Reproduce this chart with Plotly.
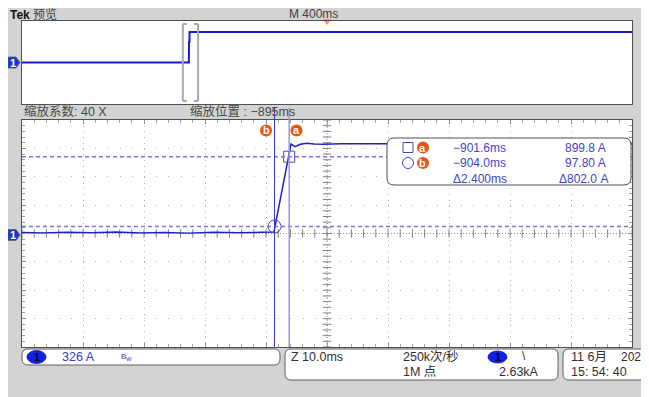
import plotly.graph_objects as go

# The page body has an 8px margin, so the figure is laid out in page pixels minus 8.
OFF = 8
W, H = 649 - OFF, 397 - OFF
FONT = "Liberation Sans, Noto Sans CJK SC, sans-serif"

# ---------------- data (read from the screen) ----------------
# zoomed window trace: time (ms) and current (A)
main_t = [-945.4, -942.0, -938.0, -934.0, -930.0, -926.0, -922.0, -918.0, -914.0, -910.0,
          -906.0, -904.1, -901.3, -900.65, -899.8, -898.7, -897.5, -896.0, -893.0, -890.0,
          -886.0, -882.0, -878.0, -874.0, -870.0, -866.0, -862.0, -858.0, -854.0, -850.0, -845.4]
main_i = [28, 22, 30, 25, 33, 24, 29, 21, 31, 26,
          30, 34, 1045, 1014, 1042, 1053, 1046, 1043, 1047, 1044,
          1048, 1045, 1043, 1047, 1045, 1049, 1044, 1046, 1045, 1047, 1045]

# preview (overview) trace: time (ms) and current (A)
ov_t = [-2000, -906, -905, -902, -901, 2000]
ov_i = [0, 0, 640, 640, 960, 960]

cursor_names = ["a", "b"]
cursor_t = [-901.6, -904.0]
cursor_i = [899.8, 97.80]
readout_t = ["−901.6ms", "−904.0ms", "Δ2.400ms"]
readout_i = ["899.8 A", "97.80 A", "Δ802.0 A"]

volts_div = 326.0          # A / div
main_tdiv = 10.0           # ms / div
ov_tdiv = 400.0            # ms / div
x_center = -895.4          # centre of zoom window on screen (label -895ms)
y_center = 17.0            # A at screen centre

# ---------------- helpers (page pixels -> paper) ----------------
def X(p):
    return (p - OFF) / W

def Y(p):
    return 1 - (p - OFF) / H

def rrect(x0, y0, x1, y1, r):
    pts = [("M", x0 + r, y0), ("L", x1 - r, y0), ("Q", x1, y0, x1, y0 + r),
           ("L", x1, y1 - r), ("Q", x1, y1, x1 - r, y1), ("L", x0 + r, y1),
           ("Q", x0, y1, x0, y1 - r), ("L", x0, y0 + r), ("Q", x0, y0, x0 + r, y0)]
    s = ""
    for p in pts:
        if p[0] == "Q":
            s += f"Q{X(p[1])},{Y(p[2])} {X(p[3])},{Y(p[4])} "
        else:
            s += f"{p[0]}{X(p[1])},{Y(p[2])} "
    return s + "Z"

shapes = []
annotations = []

def ann(x, y, text, size=12, color="#404040", anchor="left", bold=False, family=FONT, xref="paper", xshift=0):
    annotations.append(dict(
        x=x if xref != "paper" else X(x), y=Y(y), xref=xref, yref="paper",
        text=f"<b>{text}</b>" if bold else text, showarrow=False,
        xanchor=anchor, yanchor="middle", xshift=xshift,
        font=dict(size=size, color=color, family=family)))

fig = go.Figure()

# ---------------- overview ----------------
fig.add_trace(go.Scatter(x=ov_t, y=ov_i, mode="lines", xaxis="x", yaxis="y",
                         line=dict(color="#1a1ac8", width=2), hoverinfo="skip"))
# trigger marker
fig.add_trace(go.Scatter(x=[0], y=[4 * volts_div], mode="markers", xaxis="x", yaxis="y",
                         marker=dict(symbol="triangle-down", size=8, color="#f0a030"),
                         cliponaxis=False, hoverinfo="skip"))
# zoom window brackets
zw0, zw1 = x_center - 5 * main_tdiv, x_center + 5 * main_tdiv
for xa, sgn in ((zw0, 1), (zw1, -1)):
    shapes.append(dict(type="line", xref="x", yref="paper", x0=xa, x1=xa, y0=Y(101), y1=Y(24),
                       line=dict(color="#a8a8a8", width=2)))
    for yy in (24, 101):
        shapes.append(dict(type="line", xref="x", yref="paper", xsizemode="pixel", xanchor=xa,
                           x0=0, x1=4 * sgn, y0=Y(yy), y1=Y(yy), line=dict(color="#a8a8a8", width=2)))

# ---------------- main window ----------------
# centre cross (dense dotted) and its ticks
shapes.append(dict(type="line", xref="x2", yref="y2", x0=x_center, x1=x_center,
                   y0=y_center - 4 * volts_div, y1=y_center + 4 * volts_div,
                   line=dict(color="#909090", width=1, dash="1px,2px")))
shapes.append(dict(type="line", xref="x2", yref="y2", x0=x_center - 5 * main_tdiv, x1=x_center + 5 * main_tdiv,
                   y0=y_center, y1=y_center, line=dict(color="#909090", width=1, dash="1px,2px")))
tx = [x_center - 5 * main_tdiv + k * main_tdiv / 5 for k in range(51)]
ty = [y_center - 4 * volts_div + k * volts_div / 5 for k in range(41)]
fig.add_trace(go.Scatter(x=tx, y=[y_center] * len(tx), mode="markers", xaxis="x2", yaxis="y2",
                         marker=dict(symbol="line-ns", size=6, line=dict(color="#808080", width=1)),
                         hoverinfo="skip"))
fig.add_trace(go.Scatter(x=[x_center] * len(ty), y=ty, mode="markers", xaxis="x2", yaxis="y2",
                         marker=dict(symbol="line-ew", size=6, line=dict(color="#808080", width=1)),
                         hoverinfo="skip"))

# horizontal cursor lines (dashed)
for ci in cursor_i:
    shapes.append(dict(type="line", xref="paper", yref="y2", x0=X(22), x1=X(632), y0=ci, y1=ci,
                       line=dict(color="#7a7ad6", width=1.5, dash="4px,3px")))
# vertical cursor lines
vcol = {"a": ("#9898e6", 1.5), "b": ("#3434c8", 1)}
for name, ct in zip(cursor_names, cursor_t):
    c, w = vcol[name]
    shapes.append(dict(type="line", xref="x2", yref="paper", x0=ct, x1=ct, y0=Y(347), y1=Y(108),
                       line=dict(color=c, width=w)))

# trace
fig.add_trace(go.Scatter(x=main_t, y=main_i, mode="lines", xaxis="x2", yaxis="y2",
                         line=dict(color="#2020c4", width=1.5), hoverinfo="skip"))
# cursor markers
fig.add_trace(go.Scatter(x=[cursor_t[0]], y=[cursor_i[0]], mode="markers", xaxis="x2", yaxis="y2",
                         marker=dict(symbol="square-open", size=11, color="#4848c0", line=dict(width=1)),
                         hoverinfo="skip"))
fig.add_trace(go.Scatter(x=[cursor_t[1]], y=[cursor_i[1]], mode="markers", xaxis="x2", yaxis="y2",
                         marker=dict(symbol="circle-open", size=13, color="#4848c0", line=dict(width=1)),
                         hoverinfo="skip"))

# orange cursor tags
ORANGE = "#ec5418"
tag_off = {"a": 7.3, "b": -8.5}
for name, ct in zip(cursor_names, cursor_t):
    o = tag_off[name]
    shapes.append(dict(type="circle", xref="x2", yref="paper", xsizemode="pixel", xanchor=ct,
                       x0=o - 6, x1=o + 6, y0=Y(136.5), y1=Y(124.5), fillcolor=ORANGE, line_width=0))
    ann(ct, 130.5, name, size=11, color="white", anchor="center", bold=True, xref="x2", xshift=o)

# readout box
shapes.append(dict(type="path", xref="paper", yref="paper", path=rrect(387, 138, 631, 185, 7),
                   fillcolor="white", line=dict(color="#505050", width=1)))
shapes.append(dict(type="rect", xref="paper", yref="paper", x0=X(403), x1=X(413), y0=Y(152.5), y1=Y(142.5),
                   line=dict(color="#4848c0", width=1)))
shapes.append(dict(type="circle", xref="paper", yref="paper", x0=X(402.5), x1=X(413.5), y0=Y(168.5), y1=Y(157.5),
                   line=dict(color="#4848c0", width=1)))
for yy, name in ((147.5, "a"), (163, "b")):
    shapes.append(dict(type="circle", xref="paper", yref="paper", x0=X(417), x1=X(429), y0=Y(yy + 6), y1=Y(yy - 6),
                       fillcolor=ORANGE, line_width=0))
    ann(423, yy, name, size=11, color="white", anchor="center", bold=True)
BLUE_T = "#4444c4"
for k, (ts, vs) in enumerate(zip(readout_t, readout_i)):
    yy = [147.5, 163, 179][k]
    ann(451, yy, ts, size=12, color=BLUE_T)
    ann(563 if k < 2 else 557, yy, vs, size=12, color=BLUE_T)

# ---------------- header / labels ----------------
ann(8, 15, "Tek", size=12, color="#101010", bold=True)
ann(31, 15, "预览", size=12, color="#404040")
ann(313, 14, "M 400ms", size=12, color="#404040", anchor="center")
ann(22, 112, "缩放系数: 40 X", size=12.5, color="#484848")
ann(188, 112, "缩放位置 : −895ms", size=12.5, color="#484848")

# channel ground markers
for yref in ("y", "y2"):
    shapes.append(dict(type="path", xref="paper", yref=yref, xsizemode="pixel", xanchor=0,
                       ysizemode="pixel", yanchor=0,
                       path="M0,-5.5 L8,-5.5 L12,0 L8,5.5 L0,5.5 Z",
                       fillcolor="#1a36d8", line=dict(color="#606060", width=0.8)))
    annotations.append(dict(x=X(13), y=0, xref="paper", yref=yref, text="<b>1</b>", showarrow=False,
                            xanchor="center", yanchor="middle", font=dict(size=11, color="white", family=FONT)))

# ---------------- bottom readouts ----------------
shapes.append(dict(type="path", xref="paper", yref="paper", path=rrect(22, 349, 280, 365, 6),
                   fillcolor="white", line=dict(color="#606060", width=1)))
shapes.append(dict(type="path", xref="paper", yref="paper", path=rrect(285, 349, 558, 380, 6),
                   fillcolor="white", line=dict(color="#606060", width=1)))
shapes.append(dict(type="path", xref="paper", yref="paper", path=rrect(563, 349, 680, 380, 6),
                   fillcolor="white", line=dict(color="#606060", width=1)))
for (x0, x1, y0, y1) in ((27, 46, 350.5, 363.5), (488, 507, 351, 363)):
    shapes.append(dict(type="circle", xref="paper", yref="paper", x0=X(x0), x1=X(x1), y0=Y(y1), y1=Y(y0),
                       fillcolor="#1020e8", line=dict(color="#0a10a0", width=0.8)))
    ann((x0 + x1) / 2, (y0 + y1) / 2, "1", size=11, color="#000030", anchor="center", bold=True)
ann(60, 357, "326 A", size=12.5, color="#3a3ac8")
ann(119, 357, "B<sub>W</sub>", size=8, color="#3a3ac8")
ann(289, 357, "Z 10.0ms", size=12.5, color="#303030")
ann(401, 357, "250k次/秒", size=12.5, color="#303030")
ann(401, 372, "1M 点", size=12.5, color="#303030")
ann(520, 356, "\\", size=12, color="#303030")
ann(497, 372, "2.63kA", size=12.5, color="#303030")
ann(569, 357, "11 6月", size=12.5, color="#303030")
ann(619, 357, "2021", size=12, color="#303030")
ann(569, 372, "15: 54: 40", size=12.5, color="#303030")

# ---------------- layout ----------------
dom_x = [X(22), X(632)]
fig.update_layout(
    width=W, height=H, margin=dict(l=0, r=0, t=0, b=0),
    paper_bgcolor="#d3d3d3", plot_bgcolor="white", showlegend=False,
    shapes=shapes, annotations=annotations,
    xaxis=dict(domain=dom_x, range=[-5 * ov_tdiv, 5 * ov_tdiv], showgrid=False, zeroline=False,
               showticklabels=False, showline=True, mirror=True, linecolor="#505050", linewidth=1,
               anchor="y", fixedrange=True),
    yaxis=dict(domain=[Y(104), Y(21)], range=[-4 * volts_div, 4 * volts_div], showgrid=False,
               zeroline=False, showticklabels=False, showline=True, mirror=True, linecolor="#505050",
               linewidth=1, anchor="x", fixedrange=True),
    xaxis2=dict(domain=dom_x, range=[x_center - 5 * main_tdiv, x_center + 5 * main_tdiv],
                tick0=x_center - 5 * main_tdiv, dtick=main_tdiv, showgrid=True, gridcolor="#b4b4b4",
                griddash="1px,4.7px", gridwidth=1, zeroline=False, showticklabels=False,
                ticks="inside", ticklen=4, tickcolor="#909090", showline=True, mirror="ticks",
                linecolor="#505050", linewidth=1, anchor="y2",
                minor=dict(tick0=x_center - 5 * main_tdiv, dtick=main_tdiv / 5, ticks="inside",
                           ticklen=3, tickcolor="#a0a0a0", showgrid=False)),
    yaxis2=dict(domain=[Y(347), Y(120)], range=[y_center - 4 * volts_div, y_center + 4 * volts_div],
                tick0=y_center - 4 * volts_div, dtick=volts_div, showgrid=True, gridcolor="#b4b4b4",
                griddash="1px,11.2px", gridwidth=1, zeroline=False, showticklabels=False,
                ticks="inside", ticklen=4, tickcolor="#909090", showline=True, mirror="ticks",
                linecolor="#505050", linewidth=1, anchor="x2",
                minor=dict(tick0=y_center - 4 * volts_div, dtick=volts_div / 5, ticks="inside",
                           ticklen=3, tickcolor="#a0a0a0", showgrid=False)),
)

fig.write_html("out.html")
